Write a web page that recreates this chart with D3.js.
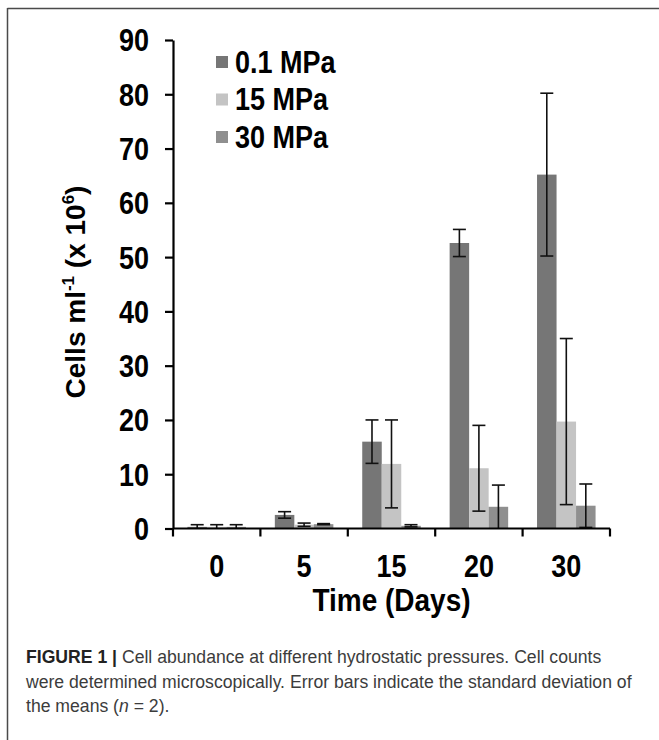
<!DOCTYPE html>
<html>
<head>
<meta charset="utf-8">
<script src="https://cdn.jsdelivr.net/npm/d3@7"></script>
<style>
  html, body { margin: 0; padding: 0; background: #fff; }
  svg { display: block; }
</style>
</head>
<body>
<script>
// ---- data ----
const days = ["0", "5", "15", "20", "30"];
const seriesNames = ["0.1 MPa", "15 MPa", "30 MPa"];
const mean01 = [0.3, 2.5, 16.0, 52.6, 65.2];
const err01  = [0.4, 0.6, 4.0, 2.5, 15.0];
const mean15 = [0.3, 0.7, 11.9, 11.1, 19.7];
const err15  = [0.4, 0.3, 8.1, 7.9, 15.3];
const mean30 = [0.3, 0.8, 0.5, 4.0, 4.2];
const err30  = [0.4, 0.1, 0.2, 4.0, 4.0];
const yTicks = [0, 10, 20, 30, 40, 50, 60, 70, 80, 90];
const colors = ["#767676", "#c4c4c4", "#8f8f8f"];

const W = 659, H = 740;
const svg = d3.select("body").append("svg").attr("width", W).attr("height", H);
const FONT = "'Liberation Sans', Arial, Helvetica, sans-serif";
const VS = 1.13; // vertical stretch of chart lettering

// frame
svg.append("line").attr("x1", 7.5).attr("x2", W).attr("y1", 8.5).attr("y2", 8.5)
  .attr("stroke", "#4a4a4a").attr("stroke-width", 1.5);
svg.append("line").attr("x1", 7.5).attr("x2", 7.5).attr("y1", 8).attr("y2", H)
  .attr("stroke", "#4a4a4a").attr("stroke-width", 1.5);

// scales
const x0 = d3.scaleBand().domain(days).range([173, 610]).padding(0);
const x1 = d3.scaleBand().domain(seriesNames).range([0, x0.bandwidth()]).paddingInner(0).paddingOuter(0.74);
const y = d3.scaleLinear().domain([0, 90]).range([528.5, 40]);

const rows = days.map((d, i) => ({
  day: d,
  vals: [
    { s: seriesNames[0], v: mean01[i], e: err01[i], c: colors[0] },
    { s: seriesNames[1], v: mean15[i], e: err15[i], c: colors[1] },
    { s: seriesNames[2], v: mean30[i], e: err30[i], c: colors[2] }
  ]
}));

// bars
const g = svg.append("g");
const groups = g.selectAll("g.grp").data(rows).join("g")
  .attr("transform", d => `translate(${x0(d.day)},0)`);
groups.selectAll("rect").data(d => d.vals).join("rect")
  .attr("x", d => x1(d.s))
  .attr("width", x1.bandwidth())
  .attr("y", d => y(d.v))
  .attr("height", d => y(0) - y(d.v))
  .attr("fill", d => d.c);

// error bars
const capW = 6.5;
const eb = groups.selectAll("g.eb").data(d => d.vals).join("g").attr("class", "eb");
eb.append("line")
  .attr("x1", d => x1(d.s) + x1.bandwidth() / 2).attr("x2", d => x1(d.s) + x1.bandwidth() / 2)
  .attr("y1", d => y(d.v + d.e)).attr("y2", d => y(Math.max(0, d.v - d.e)))
  .attr("stroke", "#111").attr("stroke-width", 1.6);
eb.append("line")
  .attr("x1", d => x1(d.s) + x1.bandwidth() / 2 - capW).attr("x2", d => x1(d.s) + x1.bandwidth() / 2 + capW)
  .attr("y1", d => y(d.v + d.e)).attr("y2", d => y(d.v + d.e))
  .attr("stroke", "#111").attr("stroke-width", 1.6);
eb.filter(d => d.v - d.e > 0).append("line")
  .attr("x1", d => x1(d.s) + x1.bandwidth() / 2 - capW).attr("x2", d => x1(d.s) + x1.bandwidth() / 2 + capW)
  .attr("y1", d => y(d.v - d.e)).attr("y2", d => y(d.v - d.e))
  .attr("stroke", "#111").attr("stroke-width", 1.6);

// y axis
const yAxis = svg.append("g").attr("transform", "translate(173,0)")
  .call(d3.axisLeft(y).tickValues(yTicks).tickSize(8).tickPadding(16).tickSizeOuter(0));
yAxis.select(".domain").attr("stroke", "#000").attr("stroke-width", 2.2);
yAxis.selectAll(".tick line").attr("stroke", "#000").attr("stroke-width", 2.2);
yAxis.selectAll(".tick text").attr("font-family", FONT).attr("font-weight", "bold")
  .attr("font-size", 27).attr("fill", "#000").attr("dy", "0.36em")
  .attr("transform", `scale(1,${VS})`);

// x axis (category boundaries as ticks)
const xAxisG = svg.append("g").attr("transform", `translate(0,${y(0)})`);
xAxisG.append("line").attr("x1", 173).attr("x2", 610).attr("y1", 0).attr("y2", 0)
  .attr("stroke", "#000").attr("stroke-width", 2.2);
const bounds = days.map(d => x0(d)).concat([x0(days[days.length - 1]) + x0.bandwidth()]);
xAxisG.selectAll("line.tk").data(bounds).join("line").attr("class", "tk")
  .attr("x1", d => d).attr("x2", d => d).attr("y1", 0).attr("y2", 8)
  .attr("stroke", "#000").attr("stroke-width", 2.2);
xAxisG.selectAll("g.xl").data(days).join("g").attr("class", "xl")
  .attr("transform", d => `translate(${x0(d) + x0.bandwidth() / 2},37.5) scale(1,${VS})`)
  .append("text")
  .attr("text-anchor", "middle").attr("dy", "0.36em")
  .attr("font-family", FONT).attr("font-weight", "bold").attr("font-size", 27)
  .text(d => d);

// axis titles
svg.append("g").attr("transform", `translate(391.5,611) scale(1,${VS})`)
  .append("text").attr("text-anchor", "middle")
  .attr("font-family", FONT).attr("font-weight", "bold").attr("font-size", 28)
  .text("Time (Days)");

const yt = svg.append("text").attr("transform", "translate(85,292) rotate(-90)")
  .attr("text-anchor", "middle")
  .attr("font-family", FONT).attr("font-weight", "bold").attr("font-size", 28);
yt.append("tspan").text("Cells ml");
yt.append("tspan").attr("font-size", 17).attr("dy", -11).text("-1");
yt.append("tspan").attr("dy", 11).text(" (x 10");
yt.append("tspan").attr("font-size", 17).attr("dy", -11).text("6");
yt.append("tspan").attr("dy", 11).text(")");

// legend
const leg = svg.append("g");
const legItems = leg.selectAll("g").data(seriesNames).join("g")
  .attr("transform", (d, i) => `translate(216,${62 + i * 37.5})`);
legItems.append("rect").attr("x", 0).attr("y", -6).attr("width", 12).attr("height", 12)
  .attr("fill", (d, i) => colors[i]);
legItems.append("g").attr("transform", `translate(19,0) scale(1,${VS})`)
  .append("text").attr("dy", "0.36em")
  .attr("font-family", FONT).attr("font-weight", "bold").attr("font-size", 27)
  .text(d => d);

// caption
const cap = svg.append("g").attr("fill", "#3c3c3c").attr("font-family", FONT);
const l1 = cap.append("text").attr("x", 26).attr("y", 663).attr("font-size", 16);
l1.append("tspan").attr("font-weight", "bold").attr("fill", "#222").text("FIGURE 1 | ");
l1.append("tspan").text("Cell abundance at different hydrostatic pressures. Cell counts");
const l2 = cap.append("text").attr("x", 26).attr("y", 687.5).attr("font-size", 16)
  .text("were determined microscopically. Error bars indicate the standard deviation of");
const l3 = cap.append("text").attr("x", 26).attr("y", 712).attr("font-size", 16);
l3.append("tspan").text("the means (");
l3.append("tspan").attr("font-style", "italic").text("n");
l3.append("tspan").text(" = 2).");
// fit caption width to the reference line width
const target = 606;
const len = l2.node().getComputedTextLength();
const fs = 16 * target / len;
[l1, l2, l3].forEach(t => t.attr("font-size", fs));
</script>
</body>
</html>
